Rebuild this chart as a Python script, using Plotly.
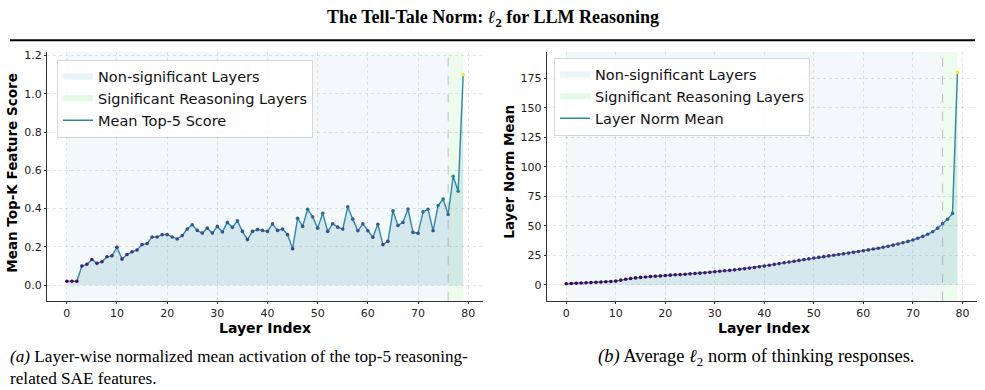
import plotly.graph_objects as go

# ---------------- data ----------------
layers = list(range(80))
top5_score = [0.02, 0.02, 0.02, 0.10, 0.109, 0.134, 0.114, 0.122, 0.148, 0.153,
              0.198, 0.136, 0.160, 0.174, 0.184, 0.212, 0.217, 0.252, 0.252, 0.264,
              0.264, 0.252, 0.241, 0.259, 0.293, 0.316, 0.286, 0.272, 0.298, 0.272,
              0.307, 0.278, 0.328, 0.302, 0.336, 0.281, 0.238, 0.281, 0.290, 0.286,
              0.281, 0.320, 0.286, 0.293, 0.264, 0.190, 0.350, 0.307, 0.397, 0.357,
              0.298, 0.376, 0.281, 0.321, 0.303, 0.293, 0.410, 0.345, 0.284, 0.321,
              0.284, 0.250, 0.318, 0.212, 0.229, 0.388, 0.312, 0.328, 0.398, 0.276,
              0.271, 0.383, 0.397, 0.284, 0.416, 0.450, 0.369, 0.569, 0.491, 1.10]
norm_mean = [1.0, 1.2, 1.4, 1.6, 1.8, 2.0, 2.2, 2.4, 2.6, 2.9,
             3.2, 4.0, 4.8, 5.4, 5.9, 6.3, 6.7, 7.0, 7.3, 7.6,
             7.9, 8.2, 8.5, 8.7, 9.0, 9.3, 9.6, 9.9, 10.3, 10.7,
             11.1, 11.5, 11.9, 12.3, 12.7, 13.2, 13.7, 14.2, 14.7, 15.3,
             15.9, 16.6, 17.3, 18.0, 18.7, 19.4, 20.0, 20.7, 21.4, 22.0,
             22.7, 23.3, 23.9, 24.5, 25.1, 25.7, 26.3, 26.9, 27.5, 28.2,
             28.9, 29.6, 30.3, 31.0, 31.8, 32.7, 33.6, 34.6, 35.6, 36.8,
             38.0, 39.4, 41.0, 42.8, 45.0, 48.0, 51.8, 55.5, 60.5, 180.0]
sig_start, sig_end = 76, 79
x_ticks = [0, 10, 20, 30, 40, 50, 60, 70, 80]
left_yticks = [0.0, 0.2, 0.4, 0.6, 0.8, 1.0, 1.2]
right_yticks = [0, 25, 50, 75, 100, 125, 150, 175]

title_text = "<b>The Tell-Tale Norm: <i>ℓ</i><sub>2</sub> for LLM Reasoning</b>"
cap_a = ("<i>(a)</i> Layer-wise normalized mean activation of the top-5 reasoning-<br>"
         "related SAE features.")
cap_b = "<i>(b)</i> Average <i>ℓ</i><sub>2</sub> norm of thinking responses."

# ---------------- style ----------------
W, H = 985, 390
LINE_C = "#2e86ab"
FILL_C = "rgba(46,134,171,0.15)"
NS_C = "rgba(173,216,230,0.15)"
SIG_C = "rgba(144,238,144,0.15)"
SANS = "DejaVu Sans"
SERIF = "Liberation Serif"

def px_x(p):
    return p / W

def px_y(p):
    return 1 - p / H

fig = go.Figure()

panels = [
    dict(vals=top5_score, name="Mean Top-5 Score", xa="x", ya="y", leg="legend"),
    dict(vals=norm_mean, name="Layer Norm Mean", xa="x2", ya="y2", leg="legend2"),
]

for p in panels:
    v = p["vals"]
    fig.add_trace(go.Scatter(x=[None], y=[None], mode="none", fill="toself",
                             fillcolor="rgba(173,216,230,0.25)", name="Non-significant Layers",
                             xaxis=p["xa"], yaxis=p["ya"], legend=p["leg"]))
    fig.add_trace(go.Scatter(x=[None], y=[None], mode="none", fill="toself",
                             fillcolor="rgba(144,238,144,0.25)", name="Significant Reasoning Layers",
                             xaxis=p["xa"], yaxis=p["ya"], legend=p["leg"]))
    fig.add_trace(go.Scatter(x=layers, y=v, mode="none", fill="tozeroy", fillcolor=FILL_C,
                             showlegend=False, hoverinfo="skip", xaxis=p["xa"], yaxis=p["ya"]))
    fig.add_trace(go.Scatter(x=layers, y=v, mode="lines", line=dict(color=LINE_C, width=1.4),
                             name=p["name"], xaxis=p["xa"], yaxis=p["ya"], legend=p["leg"]))
    fig.add_trace(go.Scatter(x=layers, y=v, mode="markers",
                             marker=dict(size=3.6, color=v, colorscale="Viridis",
                                         cmin=min(v), cmax=max(v), line=dict(width=0)),
                             showlegend=False, xaxis=p["xa"], yaxis=p["ya"]))
    xref = p["xa"]
    yref = p["ya"] + " domain"
    fig.add_shape(type="rect", xref=xref, yref=yref, x0=layers[0], x1=sig_start, y0=0, y1=1,
                  fillcolor=NS_C, line=dict(width=0), layer="below")
    fig.add_shape(type="rect", xref=xref, yref=yref, x0=sig_start, x1=sig_end, y0=0, y1=1,
                  fillcolor=SIG_C, line=dict(width=0), layer="below")
    fig.add_shape(type="line", xref=xref, yref=yref, x0=sig_start, x1=sig_start, y0=0, y1=1,
                  line=dict(color="rgba(128,128,128,0.55)", width=0.9, dash="dash"))

x_range = [-3.95, 82.95]
ydom = [px_y(300), px_y(49.5)]
axis_common = dict(showline=True, linecolor="#333333", linewidth=1.2, mirror=False,
                   ticks="outside", ticklen=2, tickcolor="#333333", zeroline=False,
                   showgrid=True, gridcolor="rgba(0,0,0,0.10)", griddash="dot", gridwidth=1,
                   tickfont=dict(family=SANS, size=11, color="#222222"))

leg_common = dict(xanchor="left", yanchor="top",
                  bgcolor="rgba(255,255,255,0.85)", bordercolor="rgba(0,0,0,0.15)", borderwidth=1,
                  font=dict(family=SANS, size=14.5, color="#111111"), tracegroupgap=0)

fig.update_layout(
    width=W, height=H, margin=dict(l=0, r=0, t=0, b=0),
    paper_bgcolor="white", plot_bgcolor="white",
    xaxis=dict(domain=[px_x(47), px_x(483)], range=x_range, tickvals=x_ticks, anchor="y", **axis_common),
    yaxis=dict(domain=ydom, range=[-0.0813, 1.218], tickvals=left_yticks, tickformat=".1f",
               anchor="x", **axis_common),
    xaxis2=dict(domain=[px_x(546.7), px_x(977)], range=x_range, tickvals=x_ticks, anchor="y2", **axis_common),
    yaxis2=dict(domain=ydom, range=[-13.4, 197.0], tickvals=right_yticks, anchor="x2", **axis_common),
    legend=dict(x=px_x(57), y=px_y(57), **leg_common),
    legend2=dict(x=px_x(554), y=px_y(55), **leg_common),
    showlegend=True,
)

# title and rule
fig.add_annotation(xref="paper", yref="paper", x=0.5, y=px_y(16), text=title_text, showarrow=False,
                   font=dict(family=SERIF, size=18, color="black"), xanchor="center", yanchor="middle")
fig.add_shape(type="line", xref="paper", yref="paper", x0=px_x(10), x1=px_x(975),
              y0=px_y(37.5), y1=px_y(37.5), line=dict(color="black", width=2))

# axis titles
for xc, txt in [(265, "Layer Index"), (764, "Layer Index")]:
    fig.add_annotation(xref="paper", yref="paper", x=px_x(xc), y=px_y(328), text="<b>%s</b>" % txt,
                       showarrow=False, font=dict(family=SANS, size=14, color="black"),
                       xanchor="center", yanchor="middle")
fig.add_annotation(xref="paper", yref="paper", x=px_x(12), y=px_y(172), text="<b>Mean Top-K Feature Score</b>",
                   textangle=-90, showarrow=False, font=dict(family=SANS, size=13.5, color="black"),
                   xanchor="center", yanchor="middle")
fig.add_annotation(xref="paper", yref="paper", x=px_x(509), y=px_y(170), text="<b>Layer Norm Mean</b>",
                   textangle=-90, showarrow=False, font=dict(family=SANS, size=13.5, color="black"),
                   xanchor="center", yanchor="middle")

# captions
fig.add_annotation(xref="paper", yref="paper", x=px_x(8), y=px_y(345), text=cap_a,
                   showarrow=False, align="left", xanchor="left", yanchor="top",
                   font=dict(family=SERIF, size=17.2, color="black"))
fig.add_annotation(xref="paper", yref="paper", x=px_x(756), y=px_y(357), text=cap_b, showarrow=False,
                   xanchor="center", yanchor="middle",
                   font=dict(family=SERIF, size=18.5, color="black"))

fig.write_html("out.html")
